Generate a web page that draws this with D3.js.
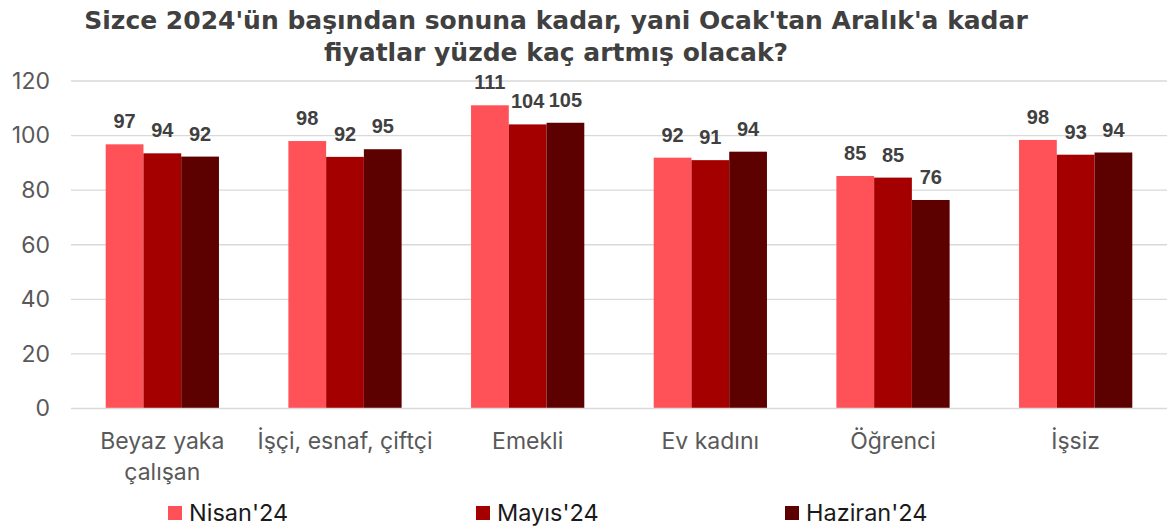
<!DOCTYPE html>
<html lang="tr">
<head>
    <meta charset="UTF-8">
    <title>Fiyat artışı beklentisi</title>
    <script src="https://d3js.org/d3.v7.min.js"></script>
    <style>
        body { margin: 0; background: #fff; }
        svg { display: block; }
    </style>
</head>
<body>
<div id="chart"></div>
<script>
    // values
    const categories = [["Beyaz yaka", "çalışan"], ["İşçi, esnaf, çiftçi"], ["Emekli"], ["Ev kadını"], ["Öğrenci"], ["İşsiz"]];
    const seriesNames = ["Nisan'24", "Mayıs'24", "Haziran'24"];
    const nisan = [96.8, 98.0, 111.1, 91.9, 85.2, 98.4];
    const mayis = [93.5, 92.2, 104.1, 91.0, 84.6, 93.0];
    const haziran = [92.3, 95.0, 104.7, 94.1, 76.4, 93.8];
    const yTicks = [0, 20, 40, 60, 80, 100, 120];
    const colors = ["#ff5258", "#a50000", "#5c0000"];

    const W = 1171, H = 529;
    const margin = {left: 71, right: 4, top: 81, bottom: 121};

    const svg = d3.select("#chart").append("svg")
        .attr("width", W).attr("height", H);

    const x = d3.scaleBand()
        .domain(d3.range(categories.length))
        .range([margin.left, W - margin.right])
        .paddingInner(0.38).paddingOuter(0.19);
    const xs = d3.scaleBand().domain(d3.range(3)).range([0, x.bandwidth()]);
    const y = d3.scaleLinear().domain([0, 120]).range([H - margin.bottom + 0.5, margin.top]);

    // gridlines
    svg.append("g").selectAll("line").data(yTicks.slice(1)).join("line")
        .attr("x1", margin.left).attr("x2", W - margin.right)
        .attr("y1", d => y(d)).attr("y2", d => y(d))
        .attr("stroke", "#d9d9d9").attr("stroke-width", 1.3);

    // y axis labels
    const yAxis = svg.append("g").attr("transform", `translate(${margin.left - 21},0)`)
        .call(d3.axisLeft(y).tickValues(yTicks).tickSize(0).tickPadding(0));
    yAxis.select(".domain").remove();
    yAxis.selectAll("text").attr("font-family", "Inter, sans-serif").attr("font-size", 23)
        .attr("fill", "#595959");

    const series = [nisan, mayis, haziran];
    series.forEach((vals, s) => {
        const g = svg.append("g");
        g.selectAll("rect").data(vals).join("rect")
            .attr("x", (d, i) => x(i) + xs(s))
            .attr("width", xs.bandwidth())
            .attr("y", d => y(d))
            .attr("height", d => y(0) - y(d))
            .attr("fill", colors[s]);
        g.selectAll("text").data(vals).join("text")
            .attr("x", (d, i) => x(i) + xs(s) + xs.bandwidth() / 2)
            .attr("y", d => y(d) - 16)
            .attr("text-anchor", "middle")
            .attr("font-family", "'Liberation Sans', Arial, sans-serif").attr("font-weight", "bold")
            .attr("font-size", 20).attr("fill", "#404040")
            .text(d => Math.round(d));
    });

    // baseline
    svg.append("line")
        .attr("x1", margin.left).attr("x2", W - margin.right)
        .attr("y1", y(0)).attr("y2", y(0))
        .attr("stroke", "#d9d9d9").attr("stroke-width", 1.3);

    // category labels
    const cat = svg.append("g").selectAll("text").data(categories).join("text")
        .attr("text-anchor", "middle")
        .attr("font-family", "Inter, sans-serif").attr("font-size", 23).attr("fill", "#595959");
    cat.each(function(lines, i) {
        d3.select(this).selectAll("tspan").data(lines).join("tspan")
            .attr("x", x(i) + x.bandwidth() / 2)
            .attr("y", (d, j) => 449 + j * 31)
            .text(d => d);
    });

    // title
    svg.append("text")
        .attr("text-anchor", "middle")
        .attr("font-family", "'DejaVu Sans', sans-serif").attr("font-weight", "bold")
        .attr("font-size", 25).attr("fill", "#404040")
        .selectAll("tspan")
        .data(["Sizce 2024'ün başından sonuna kadar, yani Ocak'tan Aralık'a kadar", "fiyatlar yüzde kaç artmış olacak?"])
        .join("tspan")
        .attr("x", 556).attr("y", (d, i) => 29 + i * 32)
        .text(d => d);

    // legend
    const legendX = [168, 476, 785];
    const lg = svg.append("g").selectAll("g").data(seriesNames).join("g")
        .attr("transform", (d, i) => `translate(${legendX[i]},506)`);
    lg.append("rect").attr("width", 14).attr("height", 14).attr("fill", (d, i) => colors[i]);
    lg.append("text").attr("x", 21).attr("y", 15)
        .attr("font-family", "Inter, sans-serif").attr("font-size", 23.5).attr("fill", "#1a1a1a")
        .text(d => d);
</script>
</body>
</html>
